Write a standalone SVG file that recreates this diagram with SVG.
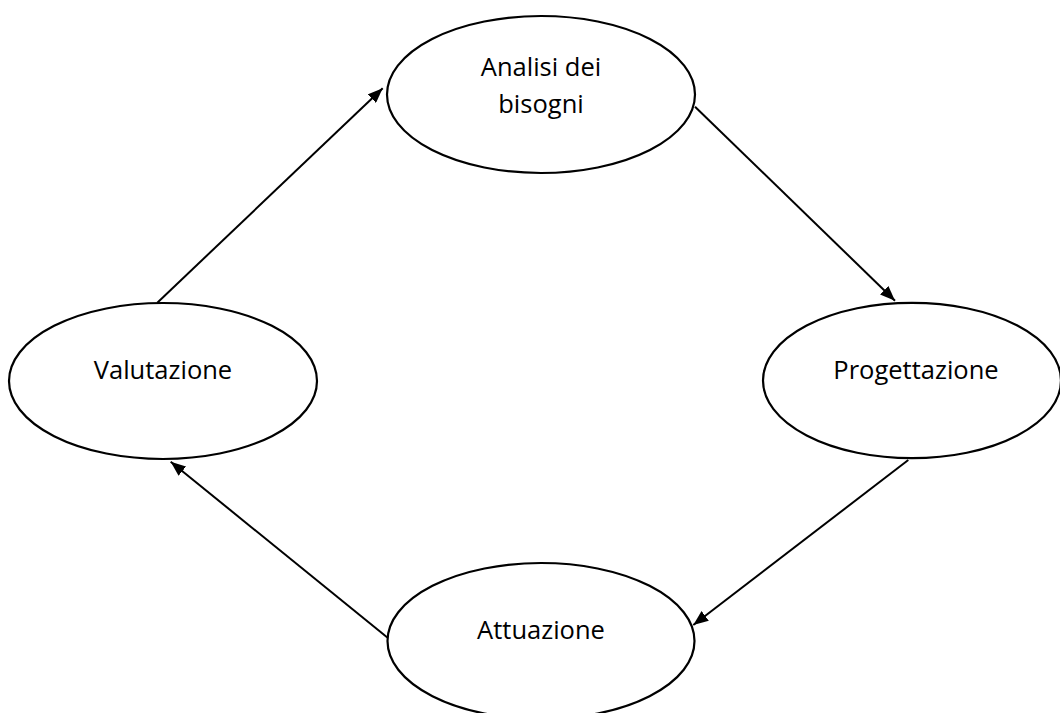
<svg xmlns="http://www.w3.org/2000/svg" width="1060" height="713" viewBox="0 0 1060 713">
  <style>
    .node ellipse { fill: #ffffff; stroke: #000000; stroke-width: 2.2; }
    .node text { font-family: "Open Sans", "Liberation Sans", sans-serif; font-size: 25.5px; fill: #000000; text-anchor: middle; }
    .edge { stroke: #000000; stroke-width: 2; fill: none; marker-end: url(#arrow); }
  </style>
  <defs>
    <marker id="arrow" markerUnits="userSpaceOnUse" markerWidth="16" markerHeight="12" refX="15" refY="6" orient="auto">
      <path d="M0,0 L15,6 L0,12 z" fill="#000000"/>
    </marker>
  </defs>
  <rect width="1060" height="713" fill="#ffffff"/>
  <g id="connectors">
    <line class="edge" x1="157.3" y1="302.7" x2="382.7" y2="88.3"/>
    <line class="edge" x1="695" y1="106.7" x2="895" y2="300.7"/>
    <line class="edge" x1="908.3" y1="460" x2="693.3" y2="625"/>
    <line class="edge" x1="388.3" y1="638.3" x2="170.7" y2="461.7"/>
  </g>
  <g id="analisi" class="node">
    <ellipse cx="541" cy="94.5" rx="154" ry="78.5"/>
    <text x="541" y="76">Analisi dei</text>
    <text x="541" y="113">bisogni</text>
  </g>
  <g id="progettazione" class="node">
    <ellipse cx="912" cy="380.5" rx="149" ry="77.7"/>
    <text x="916" y="379">Progettazione</text>
  </g>
  <g id="valutazione" class="node">
    <ellipse cx="163" cy="381" rx="154" ry="78"/>
    <text x="163" y="379">Valutazione</text>
  </g>
  <g id="attuazione" class="node">
    <ellipse cx="541" cy="641" rx="153.5" ry="78"/>
    <text x="541" y="639">Attuazione</text>
  </g>
</svg>
